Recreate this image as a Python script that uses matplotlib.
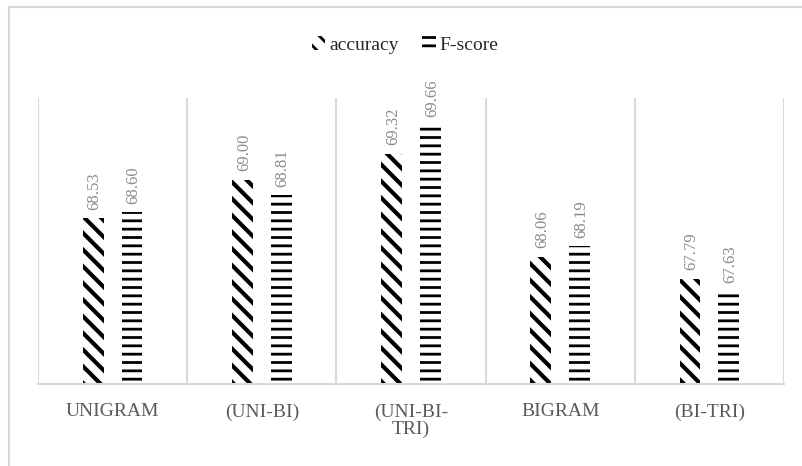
import matplotlib
matplotlib.use("Agg")
import matplotlib.pyplot as plt
from matplotlib.patches import Rectangle
import numpy as np

# ── data ────────────────────────────────────────────────────────────────────
categories = ["UNIGRAM", "(UNI-BI)", "(UNI-BI-\nTRI)", "BIGRAM", "(BI-TRI)"]
accuracy = [68.53, 69.00, 69.32, 68.06, 67.79]
fscore = [68.60, 68.81, 69.66, 68.19, 67.63]
acc_labels = ["68.53", "69.00", "69.32", "68.06", "67.79"]
f_labels = ["68.60", "68.81", "69.66", "68.19", "67.63"]

GRID = "#d9d9d9"
TEXT = "#595959"
LABEL = "#8c8c8c"

plt.rcParams.update({
    "font.family": ["Liberation Serif", "DejaVu Serif"],
    "hatch.color": "black",
})

fig = plt.figure(figsize=(8.03, 4.66), dpi=100)
ax = fig.add_axes([38 / 803, 82 / 466, 746 / 803, 286 / 466])

# outer chart frame (partly cut off on the right and bottom)
fig.patches.append(Rectangle((9 / 803, -0.1), 1.2, 0.1 + 459 / 466,
                             transform=fig.transFigure, fill=False,
                             edgecolor=GRID, linewidth=1.5))

x = np.arange(len(categories))
w = 0.14
off = 0.13

plt.rcParams["hatch.linewidth"] = 3.0
b1 = ax.bar(x - off, accuracy, width=w, color="white", edgecolor="black",
            linewidth=0, hatch="\\\\", label="accuracy")
plt.rcParams["hatch.linewidth"] = 2.0
b2 = ax.bar(x + off, fscore, width=w, color="white", edgecolor="black",
            linewidth=0, hatch="--", label="F-score")
for bars, lw in ((b1, 3.0), (b2, 2.0)):
    for p in bars:
        if hasattr(p, "set_hatch_linewidth"):
            p.set_hatch_linewidth(lw)

for xi, v, s in zip(x - off, accuracy, acc_labels):
    ax.annotate(s, (xi, v), xytext=(1, 6), textcoords="offset points",
                rotation=90, ha="center", va="bottom", color=LABEL, fontsize=12)
for xi, v, s in zip(x + off, fscore, f_labels):
    ax.annotate(s, (xi, v), xytext=(1, 6), textcoords="offset points",
                rotation=90, ha="center", va="bottom", color=LABEL, fontsize=12)

# category separators
for b in np.arange(-0.5, len(categories), 1.0):
    ax.axvline(b, color=GRID, linewidth=1.5, zorder=0)

ax.set_xlim(-0.5, len(categories) - 0.5)
ax.set_ylim(66.5, 70.0)
ax.set_yticks([])
ax.set_xticks(x)
ax.set_xticklabels(categories, fontsize=14, color=TEXT, linespacing=1.0)
ax.tick_params(axis="x", length=0, pad=14)
for side in ("top", "left", "right"):
    ax.spines[side].set_visible(False)
ax.spines["bottom"].set_color(GRID)
ax.spines["bottom"].set_linewidth(1.5)

leg = fig.legend(handles=[b1, b2], loc="center", bbox_to_anchor=(405 / 803, 1 - 45 / 466),
                 ncol=2, frameon=False, fontsize=14, handlelength=0.7,
                 handleheight=0.7, handletextpad=0.2, columnspacing=1.2)
for t in leg.get_texts():
    t.set_color("#262626")

fig.savefig("out.png", dpi=100)
